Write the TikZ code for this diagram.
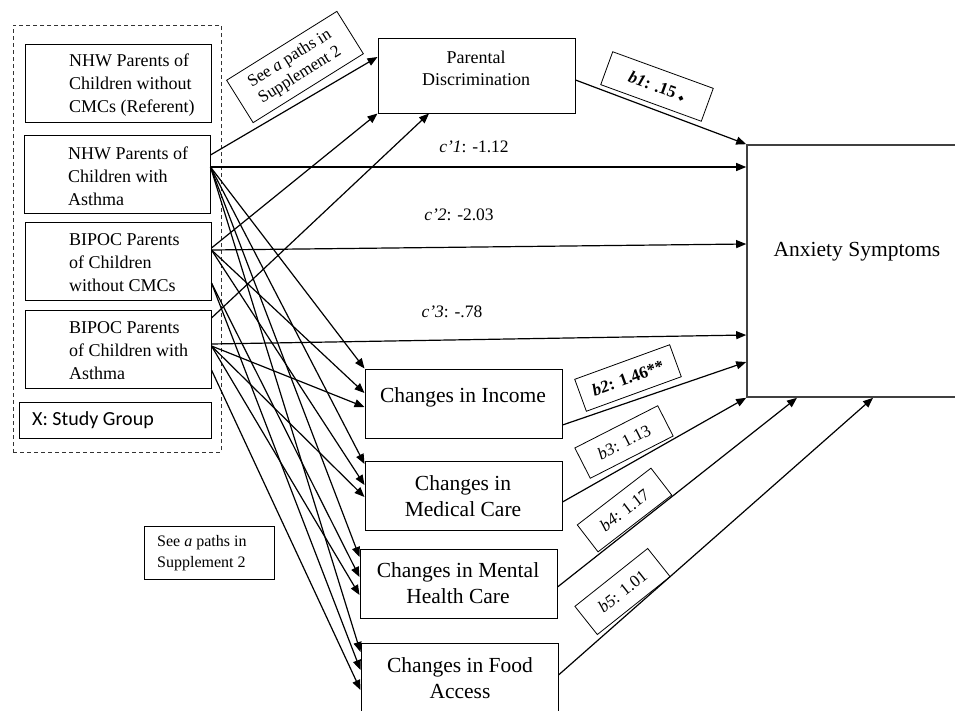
\documentclass[tikz,border=0pt]{standalone}
\usepackage{fontspec}
\setmainfont{Liberation Serif}
\newfontfamily\calib{Carlito}
\newfontfamily\djv{DejaVu Sans}
\usetikzlibrary{arrows.meta}
\begin{document}
\begin{tikzpicture}[x=1pt,y=-1pt,
  box/.style={draw, rectangle, line width=1pt, inner sep=0pt},
  grptxt/.style={anchor=west, align=left, inner sep=0pt, font=\fontsize{18}{23}\selectfont},
  medtxt/.style={align=center, inner sep=0pt, font=\fontsize{21.5}{25.5}\selectfont},
  arr/.style={line width=1.2pt, -{Triangle[length=10pt,width=8pt]}},
  lbl/.style={draw, rectangle, line width=0.8pt, inner sep=0pt, align=center, font=\fontsize{17}{20}\selectfont},
  clbl/.style={inner sep=0pt, font=\fontsize{17.5}{20}\selectfont}]
\clip (0,0) rectangle (955,710);
\fill[white] (0,0) rectangle (955,710);

% group box
\node[draw=black!80, line width=0.9pt, dash pattern=on 4pt off 3pt, rectangle, inner sep=0pt,
      minimum width=208, minimum height=427] (grp) at (117,238.5) {};
\node[box, minimum width=186, minimum height=78] (nhwr) at (118,83) {};
\node[grptxt] (nhwrt) at (69,85) {NHW Parents of\\Children without\\CMCs (Referent)};
\node[box, minimum width=186, minimum height=78] (nhwa) at (117,174) {};
\node[grptxt] (nhwat) at (68,176) {NHW Parents of\\Children with\\Asthma};
\node[box, minimum width=186, minimum height=78] (bpw) at (118,261) {};
\node[grptxt] (bpwt) at (69,263) {BIPOC Parents\\of Children\\without CMCs};
\node[box, minimum width=186, minimum height=78] (bpa) at (118,349) {};
\node[grptxt] (bpat) at (69,351) {BIPOC Parents\\of Children with\\Asthma};
\node[box, minimum width=192, minimum height=36] (xg) at (115,420) {};
\node[anchor=west, inner sep=0pt, font=\calib\fontsize{20}{24}\selectfont] (xgt) at (32,420) {X: Study Group};

% mediators
\node[box, minimum width=197, minimum height=75] (pd) at (476.5,75.5) {};
\node[align=center, inner sep=0pt, font=\fontsize{18}{22}\selectfont] (pdt) at (476,68) {Parental\\Discrimination};
\node[box, minimum width=197, minimum height=69] (inc) at (463.5,403.5) {};
\node[medtxt] (inct) at (463,397) {Changes in Income};
\node[box, minimum width=197, minimum height=69] (med) at (463.5,495.5) {};
\node[medtxt] (medt) at (463,496) {Changes in\\Medical Care};
\node[box, minimum width=197, minimum height=69] (men) at (458.5,583.5) {};
\node[medtxt] (ment) at (458,583) {Changes in Mental\\Health Care};
\node[box, minimum width=197, minimum height=76] (food) at (459.5,681) {};
\node[medtxt] (foodt) at (460,678) {Changes in Food\\Access};

% outcome
\node[draw=black!75, line width=1.6pt, rectangle, inner sep=0pt, minimum width=220, minimum height=252] (anx) at (857,271) {};
\node[medtxt] (anxt) at (857,252) {Anxiety Symptoms};

% a paths to parental discrimination
\draw[arr] (nhwa.east |- 0,155) -- (pd.west |- 0,57);
\draw[arr] (bpw.east |- 0,248) -- (pd.south west);
\draw[arr] (bpa.east |- 0,318) -- (429,0 |- pd.south);

% c' paths
\draw[arr] (nhwa.east |- 0,167) -- (anx.west |- 0,167);
\draw[arr] (bpw.east |- 0,250) -- (anx.west |- 0,244);
\draw[arr] (bpa.east |- 0,344) -- (anx.west |- 0,335);

% a paths to other mediators
\draw[arr] (nhwa.east |- 0,167) -- (inc.north west);
\draw[arr] (nhwa.east |- 0,167) -- (med.west |- 0,464);
\draw[arr] (nhwa.east |- 0,167) -- (men.west |- 0,557);
\draw[arr] (nhwa.east |- 0,167) -- (food.west |- 0,652);
\draw[arr] (bpw.east |- 0,250) -- (inc.west |- 0,393);
\draw[arr] (bpw.east |- 0,250) -- (med.west |- 0,485);
\draw[arr] (bpw.east |- 0,283) -- (men.west |- 0,577);
\draw[arr] (bpw.east |- 0,283) -- (food.west |- 0,670);
\draw[arr] (bpa.east |- 0,346) -- (inc.west |- 0,407);
\draw[arr] (bpa.east |- 0,346) -- (med.west |- 0,497);
\draw[arr] (bpa.east |- 0,346) -- (men.west |- 0,595);
\draw[arr] (bpa.east |- 0,370) -- (food.west |- 0,690);

% b paths
\draw[arr] (pd.east |- 0,80) -- (anx.north west);
\draw[arr] (inc.east |- 0,425) -- (anx.west |- 0,362);
\draw[arr] (med.east |- 0,502) -- (anx.south west);
\draw[arr] (men.east |- 0,587) -- (797,0 |- anx.south);
\draw[arr] (food.east |- 0,675) -- (873,0 |- anx.south);

% labels
\node[clbl] (c1l) at (474,147) {\textit{c’1}: -1.12};
\node[clbl] (c2l) at (459,215) {\textit{c’2}: -2.03};
\node[clbl] (c3l) at (452,312) {\textit{c’3}: -.78};

\node[lbl, rotate=32, minimum width=130, minimum height=50, font=\fontsize{17}{19.5}\selectfont] (seea1) at (295,67) {See \textit{a} paths in\\Supplement 2};
\node[box, minimum width=130, minimum height=53] (seea2) at (209,552.5) {};
\node[anchor=west, align=left, inner sep=0pt, font=\fontsize{16}{20.5}\selectfont] (seea2t) at (157,553) {See \textit{a} paths in\\Supplement 2};

\node[lbl, rotate=-20, minimum width=107, minimum height=35] (b1l) at (657,86.5)
  {\textbf{\textit{b1}: .15} {\djv\fontsize{7}{7}\selectfont ◆}};
\node[lbl, rotate=20, minimum width=101, minimum height=34] (b2l) at (628,378) {\textbf{\textit{b2}: 1.46**}};
\node[lbl, rotate=27, minimum width=93, minimum height=34] (b3l) at (624,442) {\textit{b3}: 1.13};
\node[lbl, rotate=37.6, minimum width=93, minimum height=34] (b4l) at (624.5,510) {\textit{b4}: 1.17};
\node[lbl, rotate=38.5, minimum width=93, minimum height=36] (b5l) at (622.5,591.5) {\textit{b5}: 1.01};
\end{tikzpicture}
\end{document}
